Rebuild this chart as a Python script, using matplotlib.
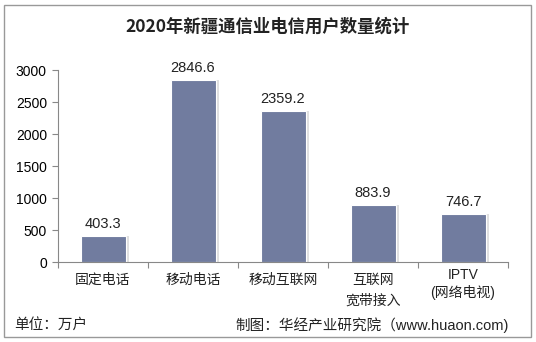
import numpy as np
import matplotlib.pyplot as plt
from matplotlib.patches import Rectangle

plt.rcParams['font.family'] = ['Noto Sans CJK SC', 'DejaVu Sans']

# 数据
categories = ['固定电话', '移动电话', '移动互联网', '互联网\n宽带接入', 'IPTV\n(网络电视)']
values = [403.3, 2846.6, 2359.2, 883.9, 746.7]
yticks = [0, 500, 1000, 1500, 2000, 2500, 3000]

W, H = 536, 342
fig = plt.figure(figsize=(W / 100, H / 100), dpi=100)
latin = ['Liberation Sans', 'Noto Sans CJK SC']

# 外框
fig.add_artist(Rectangle((4 / W, 5 / H), 527 / W, 332 / H, transform=fig.transFigure,
                         fill=False, edgecolor='#999999', linewidth=1))

ax = fig.add_axes([58 / W, 1 - 262 / H, 450 / W, 192 / H])
x = np.arange(len(categories))

# 阴影
ax.bar(x + 0.035, values, width=0.5, color='#e0e0e0', zorder=1)
ax.bar(x + 0.02, values, width=0.5, color='#cfcfcf', zorder=1)
ax.bar(x, values, width=0.5, color='#717c9f', edgecolor='white', linewidth=0.8, zorder=2)

for xi, v in zip(x, values):
    ax.text(xi, v + 80, f'{v:.1f}', ha='center', va='bottom', fontsize=10.5,
            family=latin, color='#222222')

ax.set_xlim(-0.5, len(categories) - 0.5)
ax.set_ylim(0, 3000)
ax.set_yticks(yticks)
ax.set_yticklabels([str(t) for t in yticks], fontsize=10, family=latin)
ax.set_xticks(np.arange(-0.5, len(categories)))
ax.set_xticklabels([])
ax.tick_params(axis='x', length=4, color='#888888')
ax.tick_params(axis='y', length=4, color='#888888', pad=4)

# 类别标签(逐行放置)
px = 3000 / 192
for i, c in enumerate(categories):
    lines = c.split('\n')
    first = 275 if lines[0] == 'IPTV' else 280
    gap = 18 if lines[0] == 'IPTV' else 21
    for k, ln in enumerate(lines):
        ax.text(i, -(first + k * gap - 262) * px, ln, ha='center', va='center',
                fontsize=10, family=latin, color='#222222')

for s in ['top', 'right']:
    ax.spines[s].set_visible(False)
ax.spines['left'].set_color('#888888')
ax.spines['bottom'].set_color('#888888')

fig.text(268 / W, 1 - 27 / H, '2020年新疆通信业电信用户数量统计', ha='center', va='center',
         fontsize=12.5, fontweight='bold', color='#222222')
fig.text(14 / W, 1 - 325 / H, '单位：万户', ha='left', va='center', fontsize=10.5, color='#222222')
fig.text(509 / W, 1 - 325 / H, '制图：华经产业研究院（www.huaon.com)', ha='right', va='center',
         fontsize=10.5, family=latin, color='#222222')

fig.savefig('out.png', dpi=100)
